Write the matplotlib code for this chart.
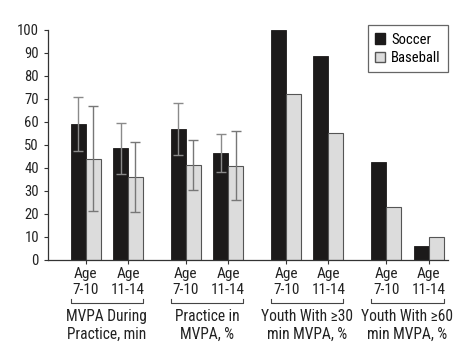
import matplotlib
matplotlib.use("Agg")
import matplotlib.pyplot as plt
import matplotlib.transforms as mtransforms
from matplotlib.patches import Patch
from matplotlib import font_manager

names = set(f.name for f in font_manager.fontManager.ttflist)
fam = [n for n in ['Liberation Sans Narrow', 'DejaVu Sans Condensed', 'Roboto Condensed',
                   'Liberation Sans'] if n in names]
plt.rcParams['font.family'] = fam + ['DejaVu Sans']
plt.rcParams['font.size'] = 10

# data
age_labels = ['Age\n7-10', 'Age\n11-14'] * 4
group_labels = ['MVPA During\nPractice, min', 'Practice in\nMVPA, %',
                'Youth With \u226530\nmin MVPA, %', 'Youth With \u226560\nmin MVPA, %']
soccer = [59, 48.5, 56.8, 46.3, 100, 88.8, 42.7, 5.8]
baseball = [44, 35.9, 41.2, 41, 72, 55, 22.8, 10]
soccer_err = [11.7, 11, 11.2, 8.3, None, None, None, None]
baseball_err = [23, 15.2, 10.9, 15, None, None, None, None]

pos = [0, 1, 2.365, 3.365, 4.73, 5.73, 7.095, 8.095]
w = 0.353

fig = plt.figure(figsize=(4.74, 3.63), dpi=100)
ax = fig.add_axes([0.1013, 0.2846, 0.8437, 0.6328])

xs = [p - w / 2 for p in pos]
xb = [p + w / 2 for p in pos]
ax.bar(xs, soccer, w, color='#1c1a1a', edgecolor='#1c1a1a', linewidth=0.6, zorder=2)
ax.bar(xb, baseball, w, color='#dcdcdc', edgecolor='#555555', linewidth=0.8, zorder=2)

# error bars only for first two groups
for x, v, e in zip(xs, soccer, soccer_err):
    if e is not None:
        ax.errorbar(x, v, yerr=e, fmt='none', ecolor='#8a8a8a', elinewidth=1,
                    capsize=3.6, capthick=1, zorder=3)
for x, v, e in zip(xb, baseball, baseball_err):
    if e is not None:
        ax.errorbar(x, v, yerr=e, fmt='none', ecolor='#777777', elinewidth=1,
                    capsize=3.6, capthick=1, zorder=3)

ax.set_xlim(-0.887, 8.549)
ax.set_ylim(0, 100)
ax.set_yticks(range(0, 101, 10))
ax.set_xticks(pos)
ax.set_xticklabels(age_labels, linespacing=1.2, fontsize=11)
ax.tick_params(axis='y', labelsize=10.5)
ax.tick_params(axis='both', length=3, width=0.8, color='#333333', labelcolor='#222222')
ax.tick_params(axis='x', pad=2)
for s in ['top', 'right']:
    ax.spines[s].set_visible(False)
for s in ['left', 'bottom']:
    ax.spines[s].set_color('#333333')
    ax.spines[s].set_linewidth(0.9)

# brackets and group titles below the ticks
trans = mtransforms.blended_transform_factory(ax.transData, ax.transAxes)
for i, lab in enumerate(group_labels):
    x0 = pos[2 * i] - w
    x1 = pos[2 * i + 1] + w
    ax.plot([x0, x0, x1, x1], [-0.172, -0.19, -0.19, -0.172], color='#444444',
            lw=0.8, transform=trans, clip_on=False)
    ax.text((x0 + x1) / 2, -0.215, lab, transform=trans, ha='center', va='top',
            fontsize=11.2, linespacing=1.25, color='#222222')

handles = [Patch(facecolor='#1c1a1a', edgecolor='#1c1a1a'),
           Patch(facecolor='#dcdcdc', edgecolor='#555555')]
leg = ax.legend(handles, ['Soccer', 'Baseball'], loc='upper right',
                bbox_to_anchor=(1.0, 1.02), borderaxespad=0, fancybox=False,
                framealpha=1, edgecolor='#666666', handlelength=0.7,
                handleheight=0.7, handletextpad=0.4, borderpad=0.5,
                labelspacing=0.3, fontsize=10.5)
leg.get_frame().set_linewidth(0.9)

fig.savefig('out.png', dpi=100)
